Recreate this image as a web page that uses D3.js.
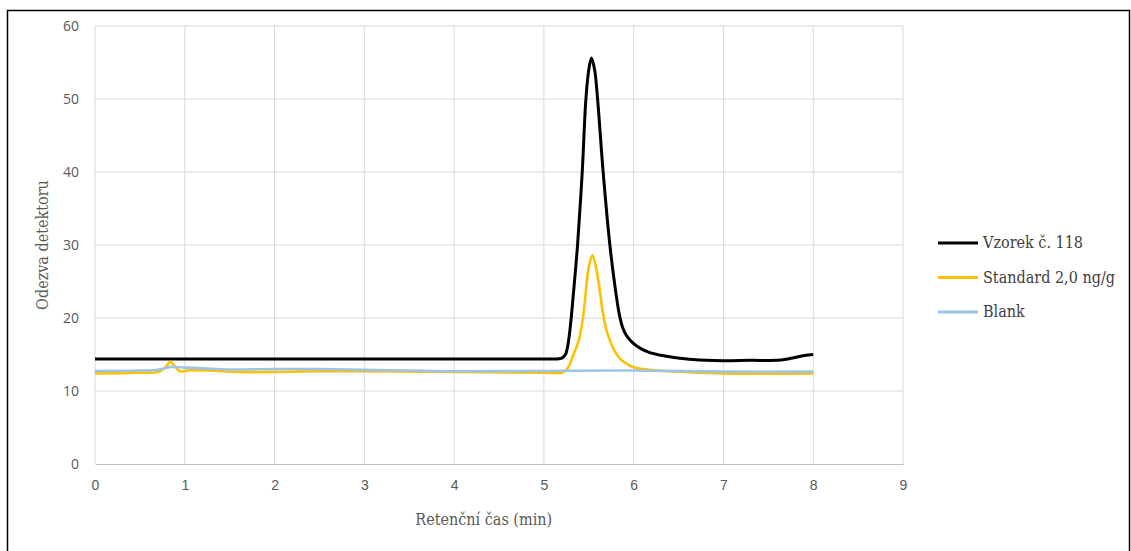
<!DOCTYPE html>
<html>
<head>
<meta charset="utf-8">
<script src="https://cdn.jsdelivr.net/npm/d3@7"></script>
<style>
  body { margin: 0; background: #fff; }
  svg { display: block; }
</style>
</head>
<body>
<svg id="chart" width="1131" height="551"></svg>
<script>
// series values (time in min, response)
const vzorekT = [0, 1, 2, 3, 4, 5.0, 5.15, 5.2, 5.24, 5.27, 5.3, 5.33, 5.375, 5.427, 5.468, 5.5, 5.53, 5.565, 5.598, 5.66, 5.735, 5.79, 5.84, 5.88, 5.93, 5.99, 6.08, 6.18, 6.3, 6.45, 6.66, 7.0, 7.3, 7.6, 7.7, 7.8, 7.9, 8.0];
const vzorekV = [14.4, 14.4, 14.4, 14.4, 14.4, 14.4, 14.4, 14.5, 15.0, 16.5, 19.5, 23.5, 30, 40, 50, 54, 55.6, 54, 50, 40, 30, 24.5, 20.5, 18.6, 17.4, 16.6, 15.8, 15.25, 14.9, 14.6, 14.3, 14.15, 14.2, 14.2, 14.35, 14.6, 14.85, 15.0];

const standardT = [0, 0.5, 0.7, 0.78, 0.84, 0.9, 0.95, 1.05, 1.3, 1.6, 2.5, 3, 4, 5, 5.2, 5.25, 5.29, 5.32, 5.39, 5.44, 5.47, 5.5, 5.54, 5.58, 5.62, 5.66, 5.7, 5.76, 5.83, 5.9, 5.99, 6.18, 6.4, 7, 8];
const standardV = [12.4, 12.5, 12.6, 13.2, 14.0, 13.2, 12.7, 12.85, 12.8, 12.6, 12.7, 12.7, 12.6, 12.5, 12.5, 12.9, 13.7, 14.7, 17, 20.5, 24, 27, 28.6, 27, 24, 20.5, 18.2, 16.2, 14.7, 13.9, 13.3, 12.9, 12.7, 12.4, 12.4];

const blankT = [0, 0.5, 0.7, 0.85, 1.0, 1.2, 1.5, 2, 2.5, 3, 3.5, 4, 5, 6, 7, 8];
const blankV = [12.75, 12.8, 12.9, 13.3, 13.2, 13.1, 12.95, 13.0, 13.0, 12.9, 12.8, 12.7, 12.75, 12.8, 12.65, 12.65];

const xTicks = [0, 1, 2, 3, 4, 5, 6, 7, 8, 9];
const yTicks = [0, 10, 20, 30, 40, 50, 60];

const seriesNames = ["Vzorek č. 118", "Standard 2,0 ng/g", "Blank"];
const seriesColors = ["#000000", "#FFC000", "#9DC3E6"];

const svg = d3.select("#chart");
const margin = { top: 26, left: 95, right: 228, bottom: 87 };
const width = 1131 - margin.left - margin.right;
const height = 551 - margin.top - margin.bottom;

// outer frame
svg.append("rect")
  .attr("x", 7.5).attr("y", 10.5)
  .attr("width", 1122).attr("height", 545)
  .attr("fill", "none").attr("stroke", "#000").attr("stroke-width", 1.5);

const g = svg.append("g").attr("transform", `translate(${margin.left},${margin.top})`);

const x = d3.scaleLinear().domain([0, 9]).range([0, width]);
const y = d3.scaleLinear().domain([0, 60]).range([height, 0]);

// Gridlines
g.selectAll(".hgrid").data(yTicks.slice(1)).enter().append("line")
  .attr("x1", 0).attr("x2", width)
  .attr("y1", d => y(d)).attr("y2", d => y(d))
  .attr("stroke", "#d9d9d9").attr("stroke-width", 1);
g.selectAll(".vgrid").data(xTicks).enter().append("line")
  .attr("x1", d => x(d)).attr("x2", d => x(d))
  .attr("y1", 0).attr("y2", height)
  .attr("stroke", "#d9d9d9").attr("stroke-width", 1);

// Axes
const xAxis = g.append("g")
  .attr("transform", `translate(0,${height})`)
  .call(d3.axisBottom(x).tickValues(xTicks).tickSize(0).tickPadding(16));
xAxis.select(".domain").attr("stroke", "#bfbfbf").attr("stroke-width", 1.2);
xAxis.selectAll("text")
  .attr("fill", "#595959").style("font-family", "'Liberation Sans Narrow', 'Liberation Sans', sans-serif").style("font-size", "14px");

const yAxis = g.append("g")
  .call(d3.axisLeft(y).tickValues(yTicks).tickSize(0).tickPadding(16));
yAxis.select(".domain").remove();
yAxis.selectAll("text")
  .attr("fill", "#595959").style("font-family", "'Open Sans', sans-serif").style("font-size", "14px");

// Lines
const series = [
  { t: vzorekT, v: vzorekV },
  { t: standardT, v: standardV },
  { t: blankT, v: blankV }
];
const line = d3.line()
  .x(d => x(d[0]))
  .y(d => y(d[1]))
  .curve(d3.curveCatmullRom.alpha(0.5));

series.forEach((s, i) => {
  const pts = s.t.map((t, k) => [t, s.v[k]]);
  g.append("path")
    .datum(pts)
    .attr("d", line)
    .attr("fill", "none")
    .attr("stroke", seriesColors[i])
    .attr("stroke-width", i === 0 ? 3 : 2.6)
    .attr("stroke-linejoin", "round");
});

// Axis titles
svg.append("text")
  .attr("x", margin.left + x(4.33)).attr("y", 525)
  .attr("text-anchor", "middle")
  .attr("fill", "#595959")
  .style("font-family", "'DejaVu Serif Condensed', 'DejaVu Serif', serif")
  .style("font-size", "16px")
  .text("Retenční čas (min)");

svg.append("text")
  .attr("transform", `translate(48,${margin.top + y(30)}) rotate(-90)`)
  .attr("text-anchor", "middle")
  .attr("fill", "#595959")
  .style("font-family", "'DejaVu Serif Condensed', 'DejaVu Serif', serif")
  .style("font-size", "16px")
  .text("Odezva detektoru");

// Legend
const legend = svg.append("g").attr("transform", "translate(938,243)");
seriesNames.forEach((name, i) => {
  const row = legend.append("g").attr("transform", `translate(0,${i * 34.5})`);
  row.append("line")
    .attr("x1", 0).attr("x2", 40)
    .attr("y1", 0).attr("y2", 0)
    .attr("stroke", seriesColors[i]).attr("stroke-width", 3);
  row.append("text")
    .attr("x", 45).attr("y", 5)
    .attr("fill", "#404040")
    .style("font-family", "'DejaVu Serif Condensed', 'DejaVu Serif', serif")
    .style("font-size", "16px")
    .text(name);
});
</script>
</body>
</html>
